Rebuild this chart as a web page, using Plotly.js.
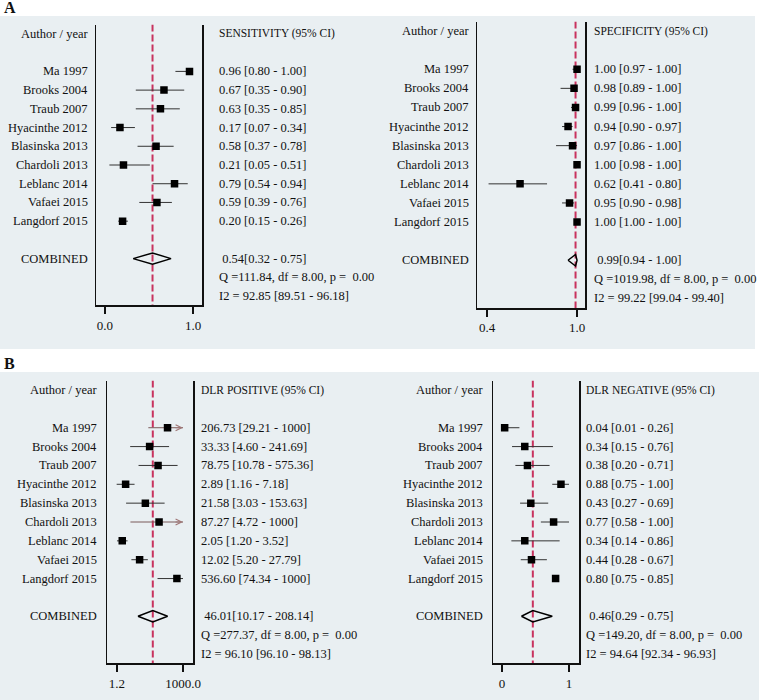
<!DOCTYPE html>
<html>
<head>
<meta charset="utf-8">
<script src="https://cdn.plot.ly/plotly-3.0.1.min.js"></script>
<style>
  body { margin: 0; background: #fff; }
  #chart { width: 759px; height: 700px; }
</style>
</head>
<body>
<div id="chart"></div>
<script>
const STUDIES = ['Ma 1997', 'Brooks 2004', 'Traub 2007', 'Hyacinthe 2012', 'Blasinska 2013',
    'Chardoli 2013', 'Leblanc 2014', 'Vafaei 2015', 'Langdorf 2015'];

const SENS = [0.96, 0.67, 0.63, 0.17, 0.58, 0.21, 0.79, 0.59, 0.20];
const SENS_LO = [0.80, 0.35, 0.35, 0.07, 0.37, 0.05, 0.54, 0.39, 0.15];
const SENS_HI = [1.00, 0.90, 0.85, 0.34, 0.78, 0.51, 0.94, 0.76, 0.26];

const SPEC = [1.00, 0.98, 0.99, 0.94, 0.97, 1.00, 0.62, 0.95, 1.00];
const SPEC_LO = [0.97, 0.89, 0.96, 0.90, 0.86, 0.98, 0.41, 0.90, 1.00];
const SPEC_HI = [1.00, 1.00, 1.00, 0.97, 1.00, 1.00, 0.80, 0.98, 1.00];

const DLRP = [206.73, 33.33, 78.75, 2.89, 21.58, 87.27, 2.05, 12.02, 536.60];
const DLRP_LO = [29.21, 4.60, 10.78, 1.16, 3.03, 4.72, 1.20, 5.20, 74.34];
const DLRP_HI = [1000, 241.69, 575.36, 7.18, 153.63, 1000, 3.52, 27.79, 1000];
const DLRP_CLIPPED = [true, false, false, false, false, true, false, false, false];

const DLRN = [0.04, 0.34, 0.38, 0.88, 0.43, 0.77, 0.34, 0.44, 0.80];
const DLRN_LO = [0.01, 0.15, 0.20, 0.75, 0.27, 0.58, 0.14, 0.28, 0.75];
const DLRN_HI = [0.26, 0.76, 0.71, 1.00, 0.69, 1.00, 0.86, 0.67, 0.85];

// pooled results: sensitivity, specificity, DLR+, DLR-
const COMB_EST = [0.54, 0.99, 46.01, 0.46];
const COMB_LO = [0.32, 0.94, 10.17, 0.29];
const COMB_HI = [0.75, 1.00, 208.14, 0.75];
const Q_STAT = [111.84, 1019.98, 277.37, 149.20];
const I2 = [92.85, 99.22, 96.10, 94.64];
const I2_LO = [89.51, 99.04, 96.10, 92.34];
const I2_HI = [96.18, 99.40, 98.13, 96.93];

const HEADERS = ['SENSITIVITY (95% CI)', 'SPECIFICITY (95% CI)', 'DLR POSITIVE (95% CI)', 'DLR NEGATIVE (95% CI)'];
const TICK_VALS = [[0, 1], [0.4, 1.0], [1.2, 1000], [0, 1]];
const TICK_TEXT = [['0.0', '1.0'], ['0.4', '1.0'], ['1.2', '1000.0'], ['0', '1']];

const W = 759, H = 700;
const FONT = 'Liberation Serif, Times New Roman, serif';
const BG = '#e9eff2';
const RED = '#c8325e';

// panel geometry in pixels
const PANELS = [
    { est: SENS, lo: SENS_LO, hi: SENS_HI, box: [96, 202], top: 24.6, bot: 305.4, range: [-0.102, 1.102], type: 'linear', labelX: 90, textX: 217 },
    { est: SPEC, lo: SPEC_LO, hi: SPEC_HI, box: [477, 585], top: 21.5, bot: 308, range: [0.333, 1.053], type: 'linear', labelX: 471, textX: 592 },
    { est: DLRP, lo: DLRP_LO, hi: DLRP_HI, box: [107, 193], top: 380.6, bot: 663.4, range: [-0.363, 3.442], type: 'log', labelX: 99, textX: 199 },
    { est: DLRN, lo: DLRN_LO, hi: DLRN_HI, box: [493, 579], top: 380.6, bot: 663.4, range: [-0.134, 1.149], type: 'linear', labelX: 485, textX: 584 }
];

const HEADER_ROW = 0;
const FIRST_ROW = 2;
const COMB_ROW = FIRST_ROW + STUDIES.length + 1;
const studyRows = STUDIES.map((s, i) => FIRST_ROW + i);

function fmt(v) {
    return v >= 1000 ? String(v) : v.toFixed(2);
}

const traces = [];
const annotations = [];
const shapes = [
    { type: 'rect', xref: 'paper', yref: 'paper', x0: 0, x1: 755 / W, y0: 1 - 349 / H, y1: 1 - 16 / H,
      fillcolor: BG, line: { width: 0 }, layer: 'below' },
    { type: 'rect', xref: 'paper', yref: 'paper', x0: 0, x1: 1, y0: 0, y1: 1 - 372 / H,
      fillcolor: BG, line: { width: 0 }, layer: 'below' }
];
const layout = {
    width: W, height: H,
    margin: { l: 0, r: 0, t: 0, b: 0 },
    paper_bgcolor: '#fff',
    plot_bgcolor: '#fff',
    showlegend: false,
    font: { family: FONT, size: 13, color: '#111' },
    shapes: shapes,
    annotations: annotations
};

PANELS.forEach((p, k) => {
    const n = k === 0 ? '' : String(k + 1);
    const xa = 'x' + n, ya = 'y' + n;

    layout['xaxis' + n] = {
        domain: [p.box[0] / W, p.box[1] / W],
        anchor: ya, type: p.type, range: p.range,
        showgrid: false, zeroline: false,
        showline: true, linecolor: '#111', linewidth: 1.5,
        ticks: 'outside', ticklen: 7, tickcolor: '#111', tickwidth: 1.2,
        tickvals: TICK_VALS[k], ticktext: TICK_TEXT[k],
        tickfont: { family: FONT, size: 13, color: '#111' },
        fixedrange: true
    };
    layout['yaxis' + n] = {
        domain: [1 - p.bot / H, 1 - p.top / H],
        anchor: xa, range: [COMB_ROW + 2.5, HEADER_ROW - 0.5],
        showgrid: false, zeroline: false, showticklabels: false, ticks: '',
        showline: true, mirror: true, linecolor: '#111', linewidth: 1.5,
        fixedrange: true
    };

    // pooled estimate reference line
    traces.push({
        x: [COMB_EST[k], COMB_EST[k]], y: [HEADER_ROW - 0.5, COMB_ROW + 2.5],
        xaxis: xa, yaxis: ya, mode: 'lines', hoverinfo: 'skip',
        line: { color: RED, width: 2, dash: '7px,3px' }
    });

    // confidence intervals
    const cx = [], cy = [], ax = [], ay = [];
    p.est.forEach((v, i) => {
        const clipped = k === 2 && DLRP_CLIPPED[i];
        const tx = clipped ? ax : cx, ty = clipped ? ay : cy;
        tx.push(p.lo[i], p.hi[i], null);
        ty.push(studyRows[i], studyRows[i], null);
    });
    traces.push({
        x: cx, y: cy, xaxis: xa, yaxis: ya, mode: 'lines', hoverinfo: 'skip',
        line: { color: '#333', width: 1 }
    });
    if (ax.length) {
        traces.push({
            x: ax, y: ay, xaxis: xa, yaxis: ya, mode: 'lines', hoverinfo: 'skip',
            line: { color: '#7a5a5a', width: 1 }
        });
    }

    // study estimates
    traces.push({
        x: p.est, y: studyRows, xaxis: xa, yaxis: ya, mode: 'markers',
        marker: { symbol: 'square', size: 7.5, color: '#000' }
    });

    // pooled diamond
    const d = 0.3;
    traces.push({
        x: [COMB_LO[k], COMB_EST[k], COMB_HI[k], COMB_EST[k], COMB_LO[k]],
        y: [COMB_ROW, COMB_ROW - d, COMB_ROW, COMB_ROW + d, COMB_ROW],
        xaxis: xa, yaxis: ya, mode: 'lines', hoverinfo: 'skip',
        line: { color: '#000', width: 1.5 }
    });

    // arrows for truncated intervals
    if (k === 2) {
        DLRP_CLIPPED.forEach((c, i) => {
            if (!c) return;
            annotations.push({
                xref: xa, yref: ya, x: Math.log10(DLRP_HI[i]), y: studyRows[i],
                text: '', showarrow: true, ax: -9, ay: 0,
                arrowhead: 5, arrowsize: 1.2, arrowwidth: 1, arrowcolor: '#a07878'
            });
        });
    }

    // left column: study names
    const lab = (text, row, x, anchor, size) => annotations.push({
        xref: 'paper', yref: ya, x: x / W, y: row, text: text,
        xanchor: anchor, yanchor: 'middle', showarrow: false,
        font: { family: FONT, size: size || 12.5, color: '#111' }
    });
    lab('Author / year', HEADER_ROW, p.labelX, 'right');
    STUDIES.forEach((s, i) => lab(s, studyRows[i], p.labelX, 'right'));
    lab('COMBINED', COMB_ROW, p.labelX, 'right');

    // right column: values
    lab(HEADERS[k], HEADER_ROW, p.textX, 'left', 11.5);
    p.est.forEach((v, i) => lab(fmt(v) + ' [' + fmt(p.lo[i]) + ' - ' + fmt(p.hi[i]) + ']', studyRows[i], p.textX, 'left'));
    lab(' ' + fmt(COMB_EST[k]) + '[' + fmt(COMB_LO[k]) + ' - ' + fmt(COMB_HI[k]) + ']', COMB_ROW, p.textX, 'left');
    lab('Q =' + Q_STAT[k].toFixed(2) + ', df = 8.00, p =  0.00', COMB_ROW + 1, p.textX, 'left');
    lab('I2 = ' + I2[k].toFixed(2) + ' [' + I2_LO[k].toFixed(2) + ' - ' + I2_HI[k].toFixed(2) + ']', COMB_ROW + 2, p.textX, 'left');
});

// panel letters
annotations.push({ xref: 'paper', yref: 'paper', x: 2 / W, y: 1 - 7 / H, text: '<b>A</b>',
    xanchor: 'left', yanchor: 'middle', showarrow: false, font: { family: FONT, size: 16, color: '#111' } });
annotations.push({ xref: 'paper', yref: 'paper', x: 2 / W, y: 1 - 363 / H, text: '<b>B</b>',
    xanchor: 'left', yanchor: 'middle', showarrow: false, font: { family: FONT, size: 16, color: '#111' } });

Plotly.newPlot('chart', traces, layout, { displayModeBar: false, staticPlot: true });
</script>
</body>
</html>
